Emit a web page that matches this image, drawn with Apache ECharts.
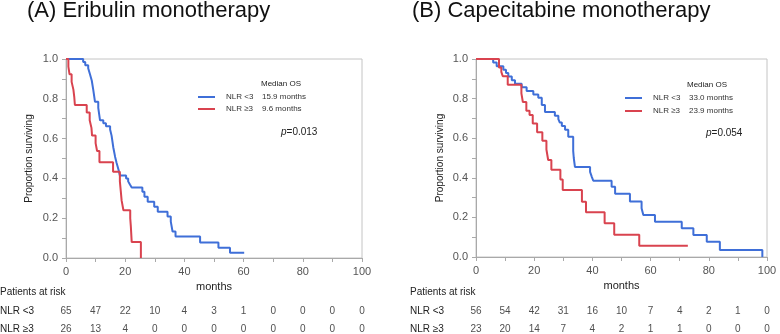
<!DOCTYPE html>
<html>
<head>
<meta charset="utf-8">
<script src="https://cdn.jsdelivr.net/npm/echarts@6/dist/echarts.min.js"></script>
<style>
  html, body { margin: 0; padding: 0; background: #fff; }
  #chart { width: 780px; height: 334px; }
</style>
</head>
<body>
<div id="chart"></div>
<script>
// Kaplan-Meier steps: [months, proportion surviving]
var eribulinLow = [[0, 1], [5.8, 0.985], [6.5, 0.969], [7.5, 0.954], [8.1, 0.923], [8.7, 0.892], [9.2, 0.846], [9.8, 0.785],
    [10.9, 0.754], [11.5, 0.692], [12.6, 0.677], [13.5, 0.662], [14.9, 0.646], [15.4, 0.615], [16.0, 0.554], [16.6, 0.508],
    [17.1, 0.477], [17.7, 0.446], [18.2, 0.415], [20.3, 0.4], [21.0, 0.385], [21.6, 0.369], [22.2, 0.354], [25.8, 0.333],
    [26.5, 0.308], [27.6, 0.283], [29.8, 0.258], [31.0, 0.233], [34.3, 0.208], [35.4, 0.183], [36.0, 0.133], [37.0, 0.108],
    [45.3, 0.078], [51.5, 0.052], [55.4, 0.026], [60.2, 0.026]];
var eribulinHigh = [[0, 1], [0.8, 0.962], [1.2, 0.923], [1.9, 0.885], [2.5, 0.846], [2.8, 0.808], [3.0, 0.769], [7.0, 0.731],
    [8.0, 0.692], [8.6, 0.654], [8.8, 0.615], [10.0, 0.577], [10.5, 0.538], [11.3, 0.481], [15.9, 0.433], [18.2, 0.385],
    [18.5, 0.337], [18.8, 0.288], [19.4, 0.24], [21.7, 0.2], [21.9, 0.16], [22.2, 0.08], [25.3, 0]];
var capeLow = [[0, 1], [5.9, 0.982], [7.1, 0.964], [9.4, 0.946], [10.3, 0.929], [11.1, 0.911], [12.3, 0.893], [13.4, 0.875],
    [15.7, 0.857], [17.4, 0.839], [19.7, 0.821], [21.4, 0.804], [22.6, 0.768], [23.7, 0.732], [27.1, 0.714], [28.3, 0.696],
    [28.8, 0.679], [29.5, 0.661], [30.6, 0.643], [31.7, 0.607], [33.4, 0.536], [33.6, 0.5], [34.0, 0.455], [39.2, 0.43],
    [39.8, 0.405], [40.3, 0.385], [46.6, 0.355], [47.8, 0.32], [52.9, 0.28], [56.9, 0.246], [57.5, 0.212], [61.5, 0.178],
    [70.7, 0.145], [74.7, 0.111], [79.3, 0.077], [83.8, 0.035], [98.4, 0]];
var capeHigh = [[0, 1], [7.9, 0.957], [8.7, 0.935], [9.2, 0.913], [10.9, 0.87], [15.6, 0.826], [16.1, 0.783], [17.3, 0.739],
    [18.4, 0.717], [19.5, 0.674], [21.0, 0.63], [22.8, 0.587], [24.2, 0.543], [24.8, 0.49], [25.9, 0.441], [29.0, 0.392],
    [29.8, 0.338], [36.4, 0.279], [37.8, 0.226], [44.2, 0.17], [47.5, 0.113], [56.1, 0.057], [72.8, 0.057]];

// patients at risk
var riskMonths = [0, 10, 20, 30, 40, 50, 60, 70, 80, 90, 100];
var riskEribulinLow = [65, 47, 22, 10, 4, 3, 1, 0, 0, 0, 0];
var riskEribulinHigh = [26, 13, 4, 0, 0, 0, 0, 0, 0, 0, 0];
var riskCapeLow = [56, 54, 42, 31, 16, 10, 7, 4, 2, 1, 0];
var riskCapeHigh = [23, 20, 14, 7, 4, 2, 1, 1, 0, 0, 0];

var groupNames = ['NLR <3', 'NLR ≥3'];
var mediansA = ['15.9 months', '9.6 months'];
var mediansB = ['33.0 months', '23.9 months'];

var FONT = "'Liberation Sans', Arial, sans-serif";
var BLUE = '#3f6fd8';
var RED = '#d9434f';
var AXIS = '#a9a9a9';

function riskRow(counts, row) {
    return counts.map(function (n, i) { return [riskMonths[i], row, n]; });
}

function kmAxes(gridIndex) {
    return {
        x: {
            gridIndex: gridIndex, type: 'value', min: 0, max: 100, interval: 10,
            name: 'months', nameLocation: 'middle', nameGap: 20,
            nameTextStyle: { fontFamily: FONT, fontSize: 11, color: '#222' },
            axisLine: { lineStyle: { color: AXIS } },
            axisTick: { lineStyle: { color: AXIS }, length: 4 },
            splitLine: { show: false },
            axisLabel: {
                fontFamily: FONT, fontSize: 11, color: '#555', margin: 8,
                formatter: function (v) { return v % 20 === 0 ? v : ''; }
            }
        },
        y: {
            gridIndex: gridIndex, type: 'value', min: 0, max: 1, interval: 0.1,
            name: 'Proportion surviving', nameLocation: 'middle', nameGap: 32,
            nameTextStyle: { fontFamily: FONT, fontSize: 10, color: '#222' },
            axisLine: { show: true, lineStyle: { color: AXIS } },
            axisTick: { show: true, lineStyle: { color: AXIS }, length: 4 },
            splitLine: { show: false },
            axisLabel: {
                fontFamily: FONT, fontSize: 11, color: '#555', margin: 8,
                formatter: function (v) { return Math.round(v * 10) % 2 === 0 ? v.toFixed(1) : ''; }
            }
        }
    };
}

function hiddenAxes(gridIndex) {
    return {
        x: { gridIndex: gridIndex, type: 'value', min: 0, max: 100, show: false },
        y: { gridIndex: gridIndex, type: 'value', min: 0, max: 1, show: false }
    };
}

function legendFor(left, top, gap, medians) {
    return {
        left: left, top: top, orient: 'vertical', data: groupNames, padding: 0,
        icon: 'rect', itemWidth: 17, itemHeight: 2, itemGap: gap,
        selectedMode: false,
        textStyle: {
            fontFamily: FONT, fontSize: 8, color: '#333', lineHeight: 10,
            rich: {
                s: { width: 6, fontFamily: FONT, fontSize: 8 },
                a: { width: 36, fontFamily: FONT, fontSize: 8, color: '#333' },
                b: { fontFamily: FONT, fontSize: 8, color: '#333' }
            }
        },
        formatter: function (name) {
            return '{s|\u00a0}{a|' + name + '}{b|' + medians[groupNames.indexOf(name)] + '}';
        }
    };
}

function text(x, y, str, size, extra) {
    var style = { text: str, font: size + 'px ' + FONT, fill: '#222', verticalAlign: 'middle' };
    if (extra) { for (var k in extra) style[k] = extra[k]; }
    return { type: 'text', x: x, y: y, style: style, silent: true };
}

var chart = echarts.init(document.getElementById('chart'));

var a = kmAxes(0), b = kmAxes(1), ra = hiddenAxes(2), rb = hiddenAxes(3);
b.x.nameGap = 19;
b.y.nameGap = 31;

var riskLabel = {
    show: true, position: 'inside', fontFamily: FONT, fontSize: 10, color: '#222',
    formatter: function (p) { return p.value[2]; }
};

var option = {
    animation: false,
    backgroundColor: '#fff',
    title: [
        { text: '(A) Eribulin monotherapy', left: 27, top: 0, padding: 0,
          textStyle: { fontFamily: FONT, fontSize: 22, fontWeight: 'normal', color: '#111' } },
        { text: '(B) Capecitabine monotherapy', left: 412, top: 0, padding: 0,
          textStyle: { fontFamily: FONT, fontSize: 22, fontWeight: 'normal', color: '#111' } }
    ],
    legend: [legendFor(198, 92, 2, mediansA), legendFor(625, 93, 3, mediansB)],
    grid: [
        { left: 66, top: 59, width: 296, height: 199, show: true, borderColor: '#c4c4c4', borderWidth: 1 },
        { left: 476, top: 59, width: 291, height: 198, show: true, borderColor: '#c4c4c4', borderWidth: 1 },
        { left: 66, top: 311, width: 296, height: 18 },
        { left: 476, top: 311, width: 291, height: 18 }
    ],
    xAxis: [a.x, b.x, ra.x, rb.x],
    yAxis: [a.y, b.y, ra.y, rb.y],
    series: [
        { name: 'NLR <3', type: 'line', step: 'end', symbol: 'none', xAxisIndex: 0, yAxisIndex: 0,
          lineStyle: { color: BLUE, width: 2 }, itemStyle: { color: BLUE }, data: eribulinLow },
        { name: 'NLR ≥3', type: 'line', step: 'end', symbol: 'none', xAxisIndex: 0, yAxisIndex: 0,
          lineStyle: { color: RED, width: 2 }, itemStyle: { color: RED }, data: eribulinHigh },
        { name: 'NLR <3', type: 'line', step: 'end', symbol: 'none', xAxisIndex: 1, yAxisIndex: 1,
          lineStyle: { color: BLUE, width: 2 }, itemStyle: { color: BLUE }, data: capeLow },
        { name: 'NLR ≥3', type: 'line', step: 'end', symbol: 'none', xAxisIndex: 1, yAxisIndex: 1,
          lineStyle: { color: RED, width: 2 }, itemStyle: { color: RED }, data: capeHigh },
        { type: 'scatter', xAxisIndex: 2, yAxisIndex: 2, symbolSize: 1, itemStyle: { color: 'rgba(0,0,0,0)' },
          label: riskLabel, data: riskRow(riskEribulinLow, 1).concat(riskRow(riskEribulinHigh, 0)) },
        { type: 'scatter', xAxisIndex: 3, yAxisIndex: 3, symbolSize: 1, itemStyle: { color: 'rgba(0,0,0,0)' },
          label: riskLabel, data: riskRow(riskCapeLow, 1).concat(riskRow(riskCapeHigh, 0)) }
    ],
    graphic: [
        text(261, 84, 'Median OS', 8),
        text(687, 85, 'Median OS', 8),
        text(281, 132, '{i|p}=0.013', 10, { rich: { i: { fontStyle: 'italic', fontFamily: FONT, fontSize: 10 } } }),
        text(706, 133, '{i|p}=0.054', 10, { rich: { i: { fontStyle: 'italic', fontFamily: FONT, fontSize: 10 } } }),
        text(0, 292, 'Patients at risk', 10),
        text(0, 311, 'NLR <3', 10),
        text(0, 329, 'NLR ≥3', 10),
        text(410, 292, 'Patients at risk', 10),
        text(410, 311, 'NLR <3', 10),
        text(410, 329, 'NLR ≥3', 10)
    ]
};

chart.setOption(option);
</script>
</body>
</html>
